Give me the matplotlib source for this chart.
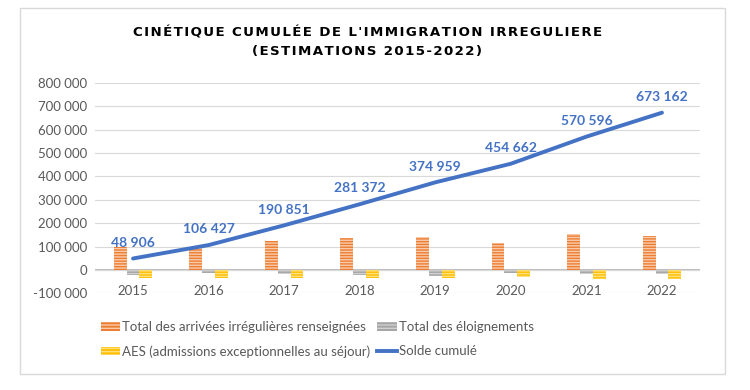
import matplotlib
matplotlib.use("Agg")
import matplotlib.pyplot as plt
import numpy as np
from matplotlib.patches import Patch, Rectangle
from matplotlib.lines import Line2D
from matplotlib.ticker import FuncFormatter

years = ["2015", "2016", "2017", "2018", "2019", "2020", "2021", "2022"]
arrivees = [98000, 100000, 124000, 138000, 143000, 117000, 155000, 146000]
eloignements = [-20000, -15000, -18000, -21000, -25000, -12000, -18000, -18000]
aes = [-35000, -35000, -35000, -35000, -35000, -32000, -37000, -40000]
solde = [48906, 106427, 190851, 281372, 374959, 454662, 570596, 673162]

plt.rcParams['hatch.linewidth'] = 1.0
plt.rcParams['font.family'] = ['Lato', 'DejaVu Sans']

fig = plt.figure(figsize=(7.5, 3.9), dpi=100)
ax = fig.add_axes([0.127, 0.248, 0.806, 0.539])

x = np.arange(len(years))
w = 0.17
ax.bar(x - w, arrivees, w, color="#ED7D31", edgecolor="#F8CBAD", hatch="------", linewidth=0, zorder=2)
ax.bar(x, eloignements, w, color="#A5A5A5", edgecolor="#D0D0D0", hatch="------", linewidth=0, zorder=2)
ax.bar(x + w, aes, w, color="#FFC000", edgecolor="#FFE080", hatch="------", linewidth=0, zorder=2)
ax.plot(x, solde, color="#4472C4", lw=2.8, zorder=3, solid_capstyle="round")

for xi, v in zip(x, solde):
    ax.annotate(f"{v:,}".replace(",", " "), (xi, v), xytext=(0, 7), textcoords="offset points",
                ha="center", va="bottom", color="#4472C4", fontsize=10, fontweight="bold")

ax.set_ylim(-100000, 800000)
ax.set_xlim(-0.5, len(years) - 0.5)
ax.set_yticks(range(-100000, 800001, 100000))
ax.yaxis.set_major_formatter(FuncFormatter(lambda v, p: f"{int(v):,}".replace(",", " ")))
ax.set_xticks(x)
ax.set_xticklabels(years)
ax.grid(axis="y", color="#D9D9D9", lw=0.8, zorder=0)
ax.axhline(0, color="#BFBFBF", lw=1.5, zorder=1)
for s in ax.spines.values():
    s.set_visible(False)
ax.tick_params(length=0, labelsize=9.5, labelcolor="#595959", pad=6)
ax.tick_params(axis="x", pad=-6)

title = "CINÉTIQUE CUMULÉE DE L'IMMIGRATION IRREGULIERE\n(ESTIMATIONS 2015-2022)"
spaced = "\n".join("\u200a".join(list(line)) for line in title.split("\n"))
fig.text(0.49, 0.892, spaced, ha="center", va="center", fontsize=9.6, fontweight="bold",
         color="#000000", linespacing=1.55, family=['DejaVu Sans'])

handles = [
    Patch(facecolor="#ED7D31", edgecolor="#F8CBAD", hatch="-----", linewidth=0),
    Patch(facecolor="#FFC000", edgecolor="#FFE080", hatch="-----", linewidth=0),
    Patch(facecolor="#A5A5A5", edgecolor="#D0D0D0", hatch="-----", linewidth=0),
    Line2D([0], [0], color="#4472C4", lw=2.8),
]
labels = ["Total des arrivées irrégulières renseignées", "AES (admissions exceptionnelles au séjour)",
          "Total des éloignements", "Solde cumulé"]
fig.legend(handles, labels, loc="upper left", bbox_to_anchor=(0.127, 0.19), ncol=2, frameon=False,
           fontsize=9.5, labelcolor="#595959", handlelength=1.5, handleheight=0.6, handletextpad=0.15,
           columnspacing=0.5, labelspacing=0.9, borderaxespad=0)

fig.patches.append(Rectangle((0.027, 0.04), 0.94, 0.94, transform=fig.transFigure,
                             fill=False, edgecolor="#D9D9D9", lw=1))

fig.savefig("out.png", dpi=100)
